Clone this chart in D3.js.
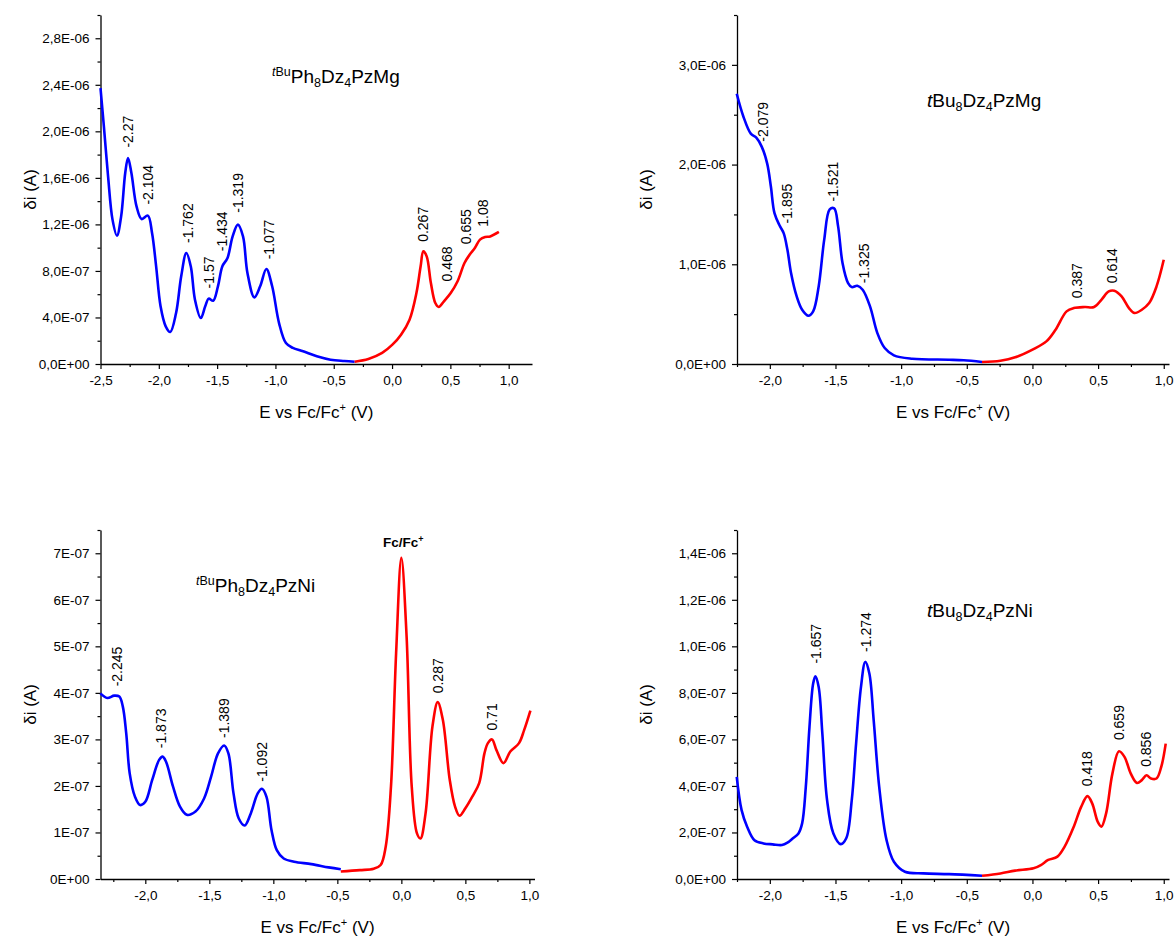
<!DOCTYPE html>
<html><head><meta charset="utf-8">
<script src="https://cdn.jsdelivr.net/npm/d3@7"></script>
<style>body{margin:0;background:#fff} text{font-family:"Liberation Sans",Arial,sans-serif;fill:#000}</style>
</head><body><svg id="c" width="1174" height="939"></svg>
<script>
// ---------- DATA (potential V, current A) ----------
const p1Blue = [[-2.5,23.72e-7],[-2.471,20.43e-7],[-2.435,16.13e-7],[-2.397,12.41e-7],[-2.359,11.03e-7],[-2.323,12.69e-7],[-2.288,16.42e-7],[-2.264,17.71e-7],[-2.235,16.42e-7],[-2.191,13.55e-7],[-2.147,12.46e-7],[-2.094,12.75e-7],[-2.058,11.26e-7],[-2.023,8.4e-7],[-1.985,4.96e-7],[-1.941,3.24e-7],[-1.902,2.75e-7],[-1.852,4.38e-7],[-1.808,7.54e-7],[-1.764,9.54e-7],[-1.726,8.4e-7],[-1.69,5.53e-7],[-1.64,3.95e-7],[-1.602,4.96e-7],[-1.572,5.62e-7],[-1.534,5.44e-7],[-1.493,6.68e-7],[-1.455,8.4e-7],[-1.411,9.11e-7],[-1.367,10.97e-7],[-1.322,11.98e-7],[-1.278,10.97e-7],[-1.24,7.82e-7],[-1.181,5.73e-7],[-1.131,6.68e-7],[-1.078,8.17e-7],[-1.028,6.68e-7],[-0.969,3.52e-7],[-0.91,1.8e-7],[-0.851,1.38e-7],[-0.763,1.09e-7],[-0.645,0.66e-7],[-0.527,0.37e-7],[-0.409,0.26e-7],[-0.321,0.2e-7]];
const p1Red = [[-0.321,0.2e-7],[-0.203,0.43e-7],[-0.085,0.95e-7],[0.003,1.66e-7],[0.077,2.52e-7],[0.15,3.81e-7],[0.209,6.1e-7],[0.245,8.4e-7],[0.268,9.68e-7],[0.297,9.25e-7],[0.333,6.96e-7],[0.371,5.24e-7],[0.4,4.9e-7],[0.445,5.39e-7],[0.503,6.1e-7],[0.562,7.11e-7],[0.621,8.68e-7],[0.665,9.4e-7],[0.71,9.97e-7],[0.754,10.69e-7],[0.798,10.92e-7],[0.842,10.97e-7],[0.916,11.35e-7]];
const p1Labels = [["-2.27",-2.264,18.6e-7],["-2.104",-2.088,13.7e-7],["-1.762",-1.749,10.4e-7],["-1.57",-1.572,6.5e-7],["-1.434",-1.455,9.7e-7],["-1.319",-1.322,13.0e-7],["-1.077",-1.057,9.0e-7],["0.267",0.268,10.5e-7],["0.468",0.474,7.1e-7],["0.655",0.636,10.3e-7],["1.08",0.783,11.8e-7]];
const p1YTicks = [0,4e-7,8e-7,12e-7,16e-7,20e-7,24e-7,28e-7];
const p1YTickLabels = ["0,0E+00","4,0E-07","8,0E-07","1,2E-06","1,6E-06","2,0E-06","2,4E-06","2,8E-06"];

const p2Blue = [[-2.252,27.1e-7],[-2.201,24.8e-7],[-2.145,23.1e-7],[-2.103,22.7e-7],[-2.062,21.8e-7],[-2.02,20.1e-7],[-1.992,17.8e-7],[-1.964,15.1e-7],[-1.922,13.8e-7],[-1.894,13.1e-7],[-1.866,11.45e-7],[-1.838,9.1e-7],[-1.796,6.8e-7],[-1.754,5.44e-7],[-1.706,4.84e-7],[-1.67,5.28e-7],[-1.628,7.78e-7],[-1.586,12.45e-7],[-1.544,15.5e-7],[-1.51,15.6e-7],[-1.48,13.8e-7],[-1.446,10.1e-7],[-1.404,8.11e-7],[-1.376,7.71e-7],[-1.334,7.85e-7],[-1.293,7.45e-7],[-1.237,5.78e-7],[-1.181,3.1e-7],[-1.125,1.6e-7],[-1.055,0.87e-7],[-0.915,0.53e-7],[-0.635,0.43e-7],[-0.523,0.37e-7],[-0.384,0.2e-7]];
const p2Red = [[-0.384,0.2e-7],[-0.244,0.33e-7],[-0.132,0.67e-7],[0.008,1.5e-7],[0.106,2.27e-7],[0.176,3.44e-7],[0.26,5.28e-7],[0.315,5.61e-7],[0.399,5.71e-7],[0.469,5.71e-7],[0.525,6.44e-7],[0.581,7.28e-7],[0.623,7.35e-7],[0.679,6.78e-7],[0.735,5.61e-7],[0.777,5.11e-7],[0.833,5.44e-7],[0.889,6.11e-7],[0.945,7.78e-7],[1.0,10.45e-7]];
const p2Labels = [["-2.079",-2.048,22.3e-7],["-1.895",-1.871,14.1e-7],["-1.521",-1.516,16.3e-7],["-1.325",-1.279,8.1e-7],["0.387",0.343,6.6e-7],["0.614",0.609,8.1e-7]];
const p2YTicks = [0,1e-6,2e-6,3e-6];
const p2YTickLabels = ["0,0E+00","1,0E-06","2,0E-06","3,0E-06"];

const p3Blue = [[-2.351,3.99e-7],[-2.297,3.89e-7],[-2.243,3.94e-7],[-2.203,3.92e-7],[-2.176,3.71e-7],[-2.149,3.13e-7],[-2.122,2.27e-7],[-2.081,1.77e-7],[-2.041,1.59e-7],[-2.0,1.66e-7],[-1.946,2.13e-7],[-1.892,2.56e-7],[-1.865,2.63e-7],[-1.838,2.52e-7],[-1.784,1.99e-7],[-1.73,1.56e-7],[-1.676,1.38e-7],[-1.608,1.45e-7],[-1.541,1.73e-7],[-1.486,2.2e-7],[-1.432,2.7e-7],[-1.384,2.87e-7],[-1.351,2.7e-7],[-1.311,1.84e-7],[-1.27,1.3e-7],[-1.224,1.15e-7],[-1.176,1.41e-7],[-1.122,1.84e-7],[-1.089,1.94e-7],[-1.054,1.77e-7],[-1.014,1.05e-7],[-0.973,0.62e-7],[-0.919,0.44e-7],[-0.838,0.37e-7],[-0.703,0.32e-7],[-0.568,0.25e-7],[-0.473,0.21e-7]];
const p3Red = [[-0.473,0.16e-7],[-0.324,0.19e-7],[-0.216,0.22e-7],[-0.162,0.3e-7],[-0.122,0.7e-7],[-0.081,1.99e-7],[-0.041,4.85e-7],[0.0,6.9e-7],[0.041,5.21e-7],[0.081,1.99e-7],[0.122,0.98e-7],[0.149,0.87e-7],[0.189,1.41e-7],[0.243,3.28e-7],[0.284,3.8e-7],[0.324,3.42e-7],[0.378,2.13e-7],[0.419,1.56e-7],[0.454,1.36e-7],[0.5,1.52e-7],[0.554,1.77e-7],[0.608,2.06e-7],[0.649,2.7e-7],[0.676,2.92e-7],[0.708,3.0e-7],[0.743,2.77e-7],[0.797,2.49e-7],[0.851,2.74e-7],[0.919,2.92e-7],[0.959,3.2e-7],[1.008,3.62e-7]];
const p3Labels = [["-2.245",-2.222,4.14e-7],["-1.873",-1.878,2.81e-7],["-1.389",-1.384,3.03e-7],["-1.092",-1.089,2.09e-7],["0.287",0.284,3.99e-7],["0.71",0.708,3.19e-7]];
const p3YTicks = [0,1e-7,2e-7,3e-7,4e-7,5e-7,6e-7,7e-7];
const p3YTickLabels = ["0E+00","1E-07","2E-07","3E-07","4E-07","5E-07","6E-07","7E-07"];

const p4Blue = [[-2.252,4.39e-7],[-2.215,2.96e-7],[-2.173,2.25e-7],[-2.117,1.67e-7],[-2.048,1.53e-7],[-1.978,1.49e-7],[-1.908,1.46e-7],[-1.866,1.56e-7],[-1.824,1.75e-7],[-1.782,1.96e-7],[-1.754,2.39e-7],[-1.726,3.96e-7],[-1.698,6.54e-7],[-1.67,8.4e-7],[-1.653,8.71e-7],[-1.628,8.25e-7],[-1.6,6.25e-7],[-1.564,3.39e-7],[-1.516,1.96e-7],[-1.46,1.5e-7],[-1.418,1.75e-7],[-1.376,3.39e-7],[-1.343,5.82e-7],[-1.306,8.25e-7],[-1.273,9.33e-7],[-1.242,8.83e-7],[-1.209,6.82e-7],[-1.167,3.96e-7],[-1.111,1.67e-7],[-1.055,0.74e-7],[-0.971,0.31e-7],[-0.831,0.24e-7],[-0.635,0.21e-7],[-0.384,0.14e-7]];
const p4Red = [[-0.384,0.14e-7],[-0.244,0.24e-7],[-0.132,0.36e-7],[0.008,0.46e-7],[0.064,0.6e-7],[0.12,0.82e-7],[0.19,0.96e-7],[0.245,1.39e-7],[0.315,2.25e-7],[0.371,3.1e-7],[0.419,3.56e-7],[0.455,3.25e-7],[0.497,2.46e-7],[0.525,2.25e-7],[0.561,2.82e-7],[0.609,4.53e-7],[0.659,5.49e-7],[0.701,5.25e-7],[0.749,4.53e-7],[0.796,4.13e-7],[0.833,4.25e-7],[0.869,4.46e-7],[0.903,4.32e-7],[0.945,4.32e-7],[0.981,4.82e-7],[1.015,5.82e-7]];
const p4Labels = [["-1.657",-1.65,9.26e-7],["-1.274",-1.265,9.76e-7],["0.418",0.419,3.99e-7],["0.659",0.659,5.97e-7],["0.856",0.866,4.82e-7]];
const p4YTicks = [0,2e-7,4e-7,6e-7,8e-7,10e-7,12e-7,14e-7];
const p4YTickLabels = ["0,0E+00","2,0E-07","4,0E-07","6,0E-07","8,0E-07","1,0E-06","1,2E-06","1,4E-06"];

const xTicksA = [-2.5,-2.0,-1.5,-1.0,-0.5,0.0,0.5,1.0];
const xTickLabelsA = ["-2,5","-2,0","-1,5","-1,0","-0,5","0,0","0,5","1,0"];
const xTicksB = [-2.0,-1.5,-1.0,-0.5,0.0,0.5,1.0];
const xTickLabelsB = ["-2,0","-1,5","-1,0","-0,5","0,0","0,5","1,0"];

// ---------- LAYOUT ----------
const svg = d3.select("#c");
const panels = [
  {blue:p1Blue, red:p1Red, labels:p1Labels, yt:p1YTicks, ytl:p1YTickLabels, xt:xTicksA, xtl:xTickLabelsA,
   xd:[-2.5,1.2], xr:[100.5,532], yd:[0,3.0e-6], yr:[364,15], ymin:2e-7, xmin:0.25, ylx:30,
   name:{x:272,y:83,parts:[["t",12.5,-7,"italic"],["Bu",12.5,0],["Ph",19,7],["8",12.5,4],["Dz",19,-4],["4",12.5,4],["PzMg",19,-4]]}},
  {blue:p2Blue, red:p2Red, labels:p2Labels, yt:p2YTicks, ytl:p2YTickLabels, xt:xTicksB, xtl:xTickLabelsB,
   xd:[-2.25,1.04], xr:[737,1169], yd:[0,3.5e-6], yr:[364,15], ymin:5e-7, xmin:0.25, ylx:646,
   name:{x:927,y:107,parts:[["t",19,0,"italic"],["Bu",19,0],["8",12.5,4],["Dz",19,-4],["4",12.5,4],["PzMg",19,-4]]}},
  {blue:p3Blue, red:p3Red, labels:p3Labels, yt:p3YTicks, ytl:p3YTickLabels, xt:xTicksB, xtl:xTickLabelsB,
   xd:[-2.35,1.04], xr:[100.5,534.5], yd:[0,7.5e-7], yr:[879,530], ymin:0.5e-7, xmin:0.25, ylx:30,
   name:{x:196,y:592,parts:[["t",12.5,-7,"italic"],["Bu",12.5,0],["Ph",19,7],["8",12.5,4],["Dz",19,-4],["4",12.5,4],["PzNi",19,-4]]}, fc:true},
  {blue:p4Blue, red:p4Red, labels:p4Labels, yt:p4YTicks, ytl:p4YTickLabels, xt:xTicksB, xtl:xTickLabelsB,
   xd:[-2.25,1.04], xr:[737,1169], yd:[0,1.5e-6], yr:[879,530], ymin:1e-7, xmin:0.25, ylx:646,
   name:{x:927,y:617,parts:[["t",19,0,"italic"],["Bu",19,0],["8",12.5,4],["Dz",19,-4],["4",12.5,4],["PzNi",19,-4]]}}
];

panels.forEach(p => {
  const x = d3.scaleLinear().domain(p.xd).range(p.xr);
  const y = d3.scaleLinear().domain(p.yd).range(p.yr);
  const g = svg.append("g");
  const x0 = p.xr[0], y0 = p.yr[0];

  const xMinor = d3.range(Math.ceil(p.xd[0]/p.xmin)*p.xmin, p.xd[1]+1e-9, p.xmin).filter(v => !p.xt.some(t => Math.abs(t-v)<1e-6));
  const yMinor = d3.range(0, p.yd[1]*1.0001, p.ymin).filter(v => !p.yt.some(t => Math.abs(t-v)<v*1e-6+1e-15));

  // x axis
  const xa = d3.axisBottom(x).tickValues(p.xt).tickFormat((d,i)=>p.xtl[i]).tickSize(5).tickPadding(6).tickSizeOuter(0);
  const gx = g.append("g").attr("transform",`translate(0,${y0})`).call(xa);
  gx.select(".domain").attr("stroke","#000").attr("stroke-width",1.3);
  gx.selectAll(".tick line").attr("stroke","#000").attr("stroke-width",1.2);
  gx.selectAll(".tick text").attr("font-size",13.5).attr("font-family","Liberation Sans, Arial, sans-serif");
  const xm = d3.axisBottom(x).tickValues(xMinor).tickFormat("").tickSize(3).tickSizeOuter(0);
  const gxm = g.append("g").attr("transform",`translate(0,${y0})`).call(xm);
  gxm.select(".domain").remove();
  gxm.selectAll(".tick line").attr("stroke","#000").attr("stroke-width",1.2);

  // y axis
  const ya = d3.axisLeft(y).tickValues(p.yt).tickFormat((d,i)=>p.ytl[i]).tickSize(5).tickPadding(6).tickSizeOuter(0);
  const gy = g.append("g").attr("transform",`translate(${x0},0)`).call(ya);
  gy.select(".domain").attr("stroke","#000").attr("stroke-width",1.3);
  gy.selectAll(".tick line").attr("stroke","#000").attr("stroke-width",1.2);
  gy.selectAll(".tick text").attr("font-size",13.5).attr("font-family","Liberation Sans, Arial, sans-serif");
  const ym = d3.axisLeft(y).tickValues(yMinor).tickFormat("").tickSize(3).tickSizeOuter(0);
  const gym = g.append("g").attr("transform",`translate(${x0},0)`).call(ym);
  gym.select(".domain").remove();
  gym.selectAll(".tick line").attr("stroke","#000").attr("stroke-width",1.2);

  // axis titles
  const xt = g.append("text").attr("x",(p.xr[0]+p.xr[1])/2).attr("y",y0+54).attr("text-anchor","middle").attr("font-size",17);
  xt.append("tspan").text("E vs Fc/Fc");
  xt.append("tspan").attr("font-size",11).attr("dy",-7).text("+");
  xt.append("tspan").attr("dy",7).text(" (V)");
  g.append("text").attr("transform",`translate(${p.ylx},${(p.yr[0]+p.yr[1])/2}) rotate(-90)`)
    .attr("text-anchor","middle").attr("dy","0.35em").attr("font-size",17).text("δi (A)");

  // curves
  const line = d3.line().x(d=>x(d[0])).y(d=>y(d[1])).curve(d3.curveCatmullRom.alpha(0.5));
  g.append("path").datum(p.blue).attr("d",line).attr("fill","none").attr("stroke","#0000ff").attr("stroke-width",2.6).attr("stroke-linejoin","round");
  g.append("path").datum(p.red).attr("d",line).attr("fill","none").attr("stroke","#ff0000").attr("stroke-width",2.6).attr("stroke-linejoin","round");

  // peak labels
  g.selectAll(".pk").data(p.labels).enter().append("text")
    .attr("transform",d=>`translate(${x(d[1])},${y(d[2])}) rotate(-90)`)
    .attr("dy","0.35em").attr("font-size",14).attr("text-anchor","start").text(d=>d[0]);

  // compound name
  const nt = g.append("text").attr("x",p.name.x).attr("y",p.name.y);
  p.name.parts.forEach(pt => {
    const ts = nt.append("tspan").attr("font-size",pt[1]).attr("dy",pt[2]).text(pt[0]);
    if (pt[3]) ts.attr("font-style",pt[3]);
  });

  if (p.fc) {
    const ft = g.append("text").attr("x",x(0)+2).attr("y",547).attr("text-anchor","middle").attr("font-size",13.5).attr("font-weight","bold");
    ft.append("tspan").text("Fc/Fc");
    ft.append("tspan").attr("font-size",9).attr("dy",-5).text("+");
  }
});
</script></body></html>
